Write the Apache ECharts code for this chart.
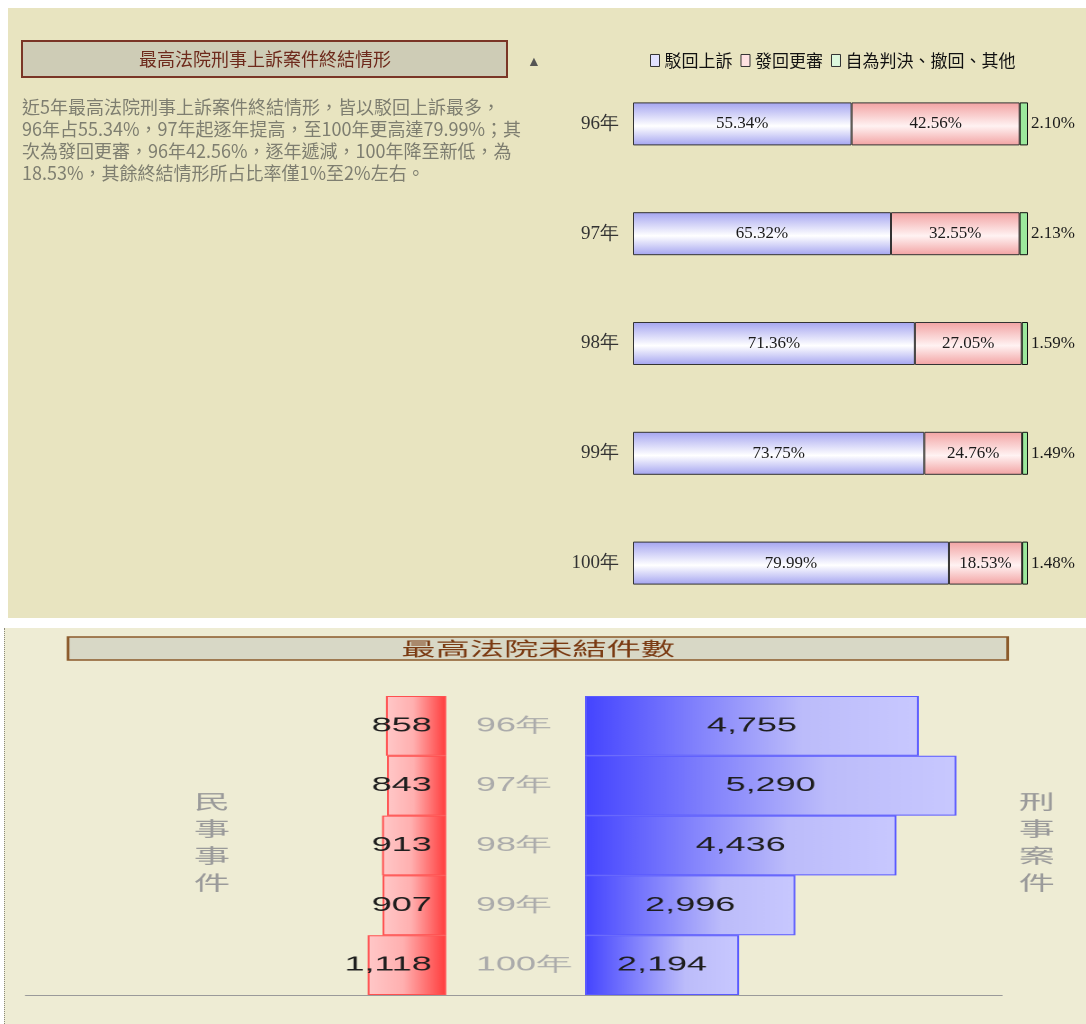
<!DOCTYPE html>
<html>
<head>
<meta charset="utf-8">
<script src="https://cdn.jsdelivr.net/npm/echarts@6/dist/echarts.min.js"></script>
<style>
  html, body { margin:0; padding:0; background:#ffffff; width:1086px; height:1024px; overflow:hidden; }
  #topBg { position:absolute; left:8px; top:8px; width:1078px; height:610px; background:#E8E4C0; }
  #topChart { position:absolute; left:0; top:0; width:1086px; height:618px; }
  #botBg { position:absolute; left:4px; top:628px; width:1082px; height:396px; background:#EEECD4; border-left:1px dotted #8a8a7a; }
  #botChart { position:absolute; left:0; top:628px; width:603px; height:396px; transform:scaleX(1.8); transform-origin:0 0; }
</style>
</head>
<body>
<div id="topBg"></div>
<div id="topChart"></div>
<div id="botBg"></div>
<div id="botChart"></div>
<script>
// ---------- data ----------
const topTitle = '最高法院刑事上訴案件終結情形';
const topNote = [
  '近5年最高法院刑事上訴案件終結情形，皆以駁回上訴最多，',
  '96年占55.34%，97年起逐年提高，至100年更高達79.99%；其',
  '次為發回更審，96年42.56%，逐年遞減，100年降至新低，為',
  '18.53%，其餘終結情形所占比率僅1%至2%左右。'
];
const topYears = ['96年', '97年', '98年', '99年', '100年'];
const legendNames = ['駁回上訴', '發回更審', '自為判決、撤回、其他'];
const rejectPct = [55.34, 65.32, 71.36, 73.75, 79.99];
const remandPct = [42.56, 32.55, 27.05, 24.76, 18.53];
const otherPct  = [2.10, 2.13, 1.59, 1.49, 1.48];

const botTitle = '最高法院未結件數';
const botYears = ['96年', '97年', '98年', '99年', '100年'];
const civilPending    = [858, 843, 913, 907, 1118];
const criminalPending = [4755, 5290, 4436, 2996, 2194];
const civilLabel = '民事事件';
const criminalLabel = '刑事案件';

// ---------- top chart ----------
const G = echarts.graphic;
const vGrad = (edge, mid) => new G.LinearGradient(0, 0, 0, 1, [
  { offset: 0, color: edge }, { offset: 0.55, color: mid }, { offset: 1, color: edge }
]);
const pctFmt = p => Number(p.value).toFixed(2) + '%';
const serifLabel = { fontFamily: 'Liberation Serif', fontSize: 17, color: '#1a1a1a' };

const topChart = echarts.init(document.getElementById('topChart'), null, { renderer: 'canvas' });
topChart.setOption({
  animation: false,
  backgroundColor: 'transparent',
  legend: {
    left: 645, top: 47, icon: 'rect',
    itemWidth: 9, itemHeight: 12, itemGap: 8,
    textStyle: { fontFamily: 'Noto Sans CJK TC', fontSize: 17, color: '#111' },
    data: [
      { name: legendNames[0], itemStyle: { color: '#E2E2FF', borderColor: '#333', borderWidth: 1 } },
      { name: legendNames[1], itemStyle: { color: '#FFE2E2', borderColor: '#333', borderWidth: 1 } },
      { name: legendNames[2], itemStyle: { color: '#DDF8DD', borderColor: '#333', borderWidth: 1 } }
    ]
  },
  grid: { left: 633, width: 395, top: 69, height: 550 },
  xAxis: { type: 'value', min: 0, max: 100, show: false },
  yAxis: {
    type: 'category', data: topYears, inverse: true,
    axisLine: { show: false }, axisTick: { show: false }, splitLine: { show: false },
    axisLabel: { margin: 14, fontFamily: 'Liberation Serif', fontSize: 19, color: '#333' }
  },
  series: [
    {
      name: legendNames[0], type: 'bar', stack: 'all', barWidth: 43, data: rejectPct,
      itemStyle: { color: vGrad('#A4A4F0', '#FFFFFF'), borderColor: '#333', borderWidth: 1 },
      label: Object.assign({ show: true, position: 'inside', formatter: pctFmt }, serifLabel)
    },
    {
      name: legendNames[1], type: 'bar', stack: 'all', barWidth: 43, data: remandPct,
      itemStyle: { color: vGrad('#F2A2A2', '#FFF2F2'), borderColor: '#333', borderWidth: 1 },
      label: Object.assign({ show: true, position: 'inside', formatter: pctFmt }, serifLabel)
    },
    {
      name: legendNames[2], type: 'bar', stack: 'all', barWidth: 43, data: otherPct,
      itemStyle: { color: '#9CE89C', borderColor: '#111', borderWidth: 1 },
      label: Object.assign({ show: true, position: 'right', distance: 3, formatter: pctFmt }, serifLabel)
    }
  ],
  graphic: [
    { type: 'rect', shape: { x: 22, y: 41, width: 485, height: 36 },
      style: { fill: '#CECCB6', stroke: '#7A3526', lineWidth: 2 } },
    { type: 'text', x: 265, y: 59,
      style: { text: topTitle, fontFamily: 'Noto Sans CJK TC', fontSize: 18, fill: '#6E2A1C', align: 'center', verticalAlign: 'middle' } },
    { type: 'text', x: 534, y: 62,
      style: { text: '▲', fontSize: 14, fill: '#555', align: 'center', verticalAlign: 'middle' } },
    { type: 'text', x: 22, y: 96,
      style: { text: topNote.join('\n'), fontFamily: 'Noto Sans CJK TC', fontSize: 18, lineHeight: 22, fill: '#7E7E70', align: 'left', verticalAlign: 'top' } }
  ]
});

// ---------- bottom chart (drawn in a 1.8x horizontally-stretched box) ----------
const fmtNum = p => Number(p.value).toLocaleString('en-US');
const sansLabel = { fontFamily: 'Liberation Sans', fontSize: 20, color: '#1e1e1e' };
const botChart = echarts.init(document.getElementById('botChart'), null, { renderer: 'canvas', devicePixelRatio: 2 });
botChart.setOption({
  animation: false,
  backgroundColor: 'transparent',
  grid: [
    { left: 13.9, width: 234, top: 68, height: 299 },
    { left: 325, width: 234, top: 68, height: 299 }
  ],
  xAxis: [
    { gridIndex: 0, type: 'value', min: 0, max: 6000, inverse: true, show: false },
    { gridIndex: 1, type: 'value', min: 0, max: 6000, show: false }
  ],
  yAxis: [
    { gridIndex: 0, type: 'category', data: botYears, inverse: true, show: false },
    { gridIndex: 1, type: 'category', data: botYears, inverse: true,
      axisLine: { show: false }, axisTick: { show: false }, splitLine: { show: false },
      axisLabel: { align: 'left', margin: 60.6, fontFamily: 'Liberation Sans', fontSize: 20, color: '#ABABAB' } }
  ],
  series: [
    {
      name: civilLabel, type: 'bar', xAxisIndex: 0, yAxisIndex: 0, barWidth: '100%', data: civilPending,
      itemStyle: {
        color: new G.LinearGradient(0, 0, 1, 0, [
          { offset: 0, color: '#FFC8C8' }, { offset: 0.45, color: '#FFB0B0' }, { offset: 1, color: '#FF3C3C' }
        ]),
        borderColor: '#FF5050', borderWidth: 1
      },
      label: Object.assign({ show: true, position: 'insideRight', distance: 8, formatter: fmtNum }, sansLabel)
    },
    {
      name: criminalLabel, type: 'bar', xAxisIndex: 1, yAxisIndex: 1, barWidth: '100%', data: criminalPending,
      itemStyle: {
        color: new G.LinearGradient(0, 0, 1, 0, [
          { offset: 0, color: '#4444FF' }, { offset: 0.65, color: '#BCBCFA' }, { offset: 1, color: '#C8C8FF' }
        ]),
        borderColor: '#5A5AFF', borderWidth: 1
      },
      label: Object.assign({ show: true, position: 'inside', formatter: fmtNum }, sansLabel)
    }
  ],
  graphic: [
    { type: 'rect', shape: { x: 37.8, y: 9, width: 522, height: 23 },
      style: { fill: '#D8D8C6', stroke: '#8B5A2B', lineWidth: 1.5 } },
    { type: 'text', x: 299, y: 20.5,
      style: { text: botTitle, fontFamily: 'Noto Sans CJK TC', fontSize: 19, fill: '#7A3A12', align: 'center', verticalAlign: 'middle' } },
    { type: 'text', x: 117.8, y: 160,
      style: { text: civilLabel.split('').join('\n'), fontFamily: 'Noto Sans CJK TC', fontSize: 20, lineHeight: 27, fill: '#9A9A9A', align: 'center', verticalAlign: 'top' } },
    { type: 'text', x: 576, y: 160,
      style: { text: criminalLabel.split('').join('\n'), fontFamily: 'Noto Sans CJK TC', fontSize: 20, lineHeight: 27, fill: '#9A9A9A', align: 'center', verticalAlign: 'top' } },
    { type: 'line', shape: { x1: 13.9, y1: 367.5, x2: 557, y2: 367.5 },
      style: { stroke: '#9A9A9A', lineWidth: 1 } }
  ]
});
</script>
</body>
</html>
